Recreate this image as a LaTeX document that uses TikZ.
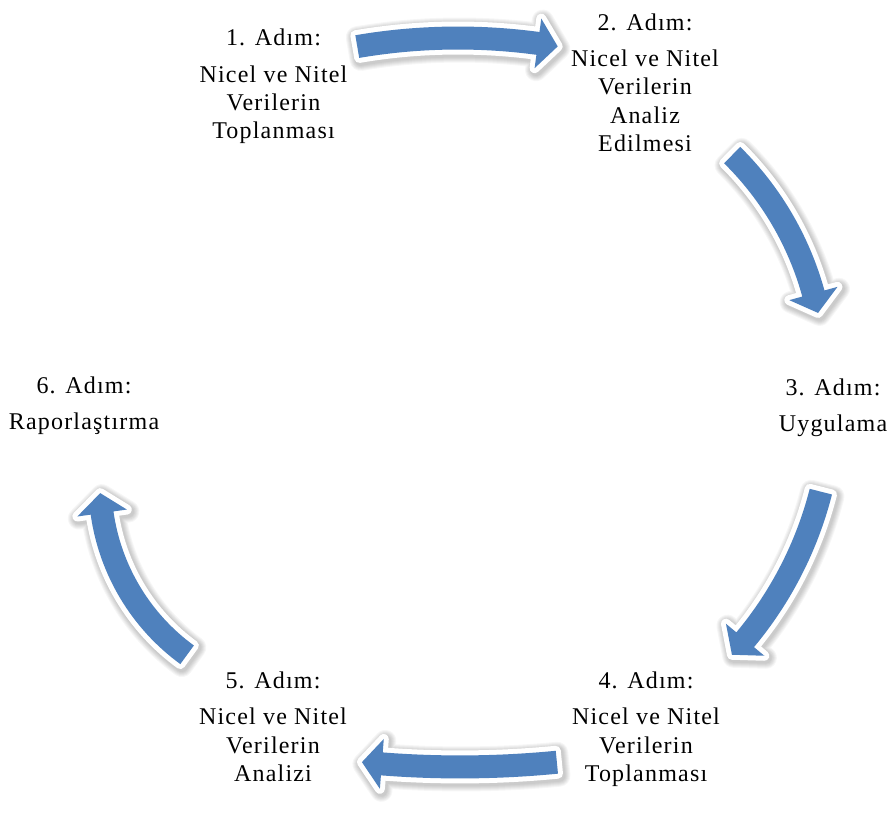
\documentclass[tikz,border=0pt]{standalone}
\usepackage{fontspec}
\setmainfont[LetterSpace=5]{Liberation Serif}
\usetikzlibrary{calc}

\definecolor{arrowblue}{RGB}{79,129,189}

% geometry of the curved block arrows (in pt)
\def\bodyw{23}
\def\headw{50}
\def\headl{20}

\tikzset{
  x=1pt, y=1pt,
  steplabel/.style={align=center, inner sep=0pt, anchor=north,
    font=\fontsize{24}{28.3}\selectfont},
  arrowshadow/.style={draw=black, draw opacity=0.035, line join=round,
    shift={(1.5,-2)}},
  arrowrim/.style={draw=white, fill=white, line width=10pt, line join=round},
}

% \bendarrow{cx}{cy}{radius}{tail angle}{tip angle}
% a block arrow bent along a circle, with a white rim and a soft shadow
\newcommand{\bendarrow}[5]{%
  \pgfmathsetmacro{\bbase}{#5+\headl*180/(pi*#3)*(#4-#5)/abs(#4-#5)}%
  \pgfmathsetmacro{\rout}{#3+\bodyw/2}%
  \pgfmathsetmacro{\rin}{#3-\bodyw/2}%
  \pgfmathsetmacro{\rhout}{#3+\headw/2}%
  \pgfmathsetmacro{\rhin}{#3-\headw/2}%
  \def\arrowshape{($(#1,#2)+(#4:\rout)$)
    arc[start angle=#4, end angle=\bbase, radius=\rout]
    -- ($(#1,#2)+(\bbase:\rhout)$)
    -- ($(#1,#2)+(#5:#3)$)
    -- ($(#1,#2)+(\bbase:\rhin)$)
    -- ($(#1,#2)+(\bbase:\rin)$)
    arc[start angle=\bbase, end angle=#4, radius=\rin] -- cycle}%
  \foreach \w in {22,20,18,16,14,12} {\draw[arrowshadow, line width=\w pt] \arrowshape;}%
  \draw[arrowrim] \arrowshape;%
  \fill[arrowblue] \arrowshape;%
}

\begin{document}
\begin{tikzpicture}
  \useasboundingbox (0,-813) rectangle (893,0);
  \fill[white] (0,-813) rectangle (893,0);

  % cycle arrows
  \bendarrow{458}{-636}{598}{99.7}{80.4}
  \bendarrow{514.5}{-375.8}{310}{45.4}{11.7}
  \bendarrow{456.5}{-398.8}{376}{-14.3}{-42.9}
  \bendarrow{460}{233}{1000}{-84.44}{-95.63}
  \bendarrow{312}{-483.5}{212}{-126.1}{-177.4}

  % steps
  \node[steplabel] (s1) at (273.5,-27.7)
    {\rule{0pt}{18pt}1. Adım:\\[8.2pt]Nicel ve Nitel\\Verilerin\\Toplanması};
  \node[steplabel] (s2) at (645,-12)
    {\rule{0pt}{18pt}2. Adım:\\[8.2pt]Nicel ve Nitel\\Verilerin\\Analiz\\Edilmesi};
  \node[steplabel] (s3) at (833,-377)
    {\rule{0pt}{18pt}3. Adım:\\[8.2pt]Uygulama};
  \node[steplabel] (s4) at (646,-670)
    {\rule{0pt}{18pt}4. Adım:\\[8.2pt]Nicel ve Nitel\\Verilerin\\Toplanması};
  \node[steplabel] (s5) at (273,-670)
    {\rule{0pt}{18pt}5. Adım:\\[8.2pt]Nicel ve Nitel\\Verilerin\\Analizi};
  \node[steplabel] (s6) at (84,-375)
    {\rule{0pt}{18pt}6. Adım:\\[8.2pt]Raporlaştırma};
\end{tikzpicture}
\end{document}
